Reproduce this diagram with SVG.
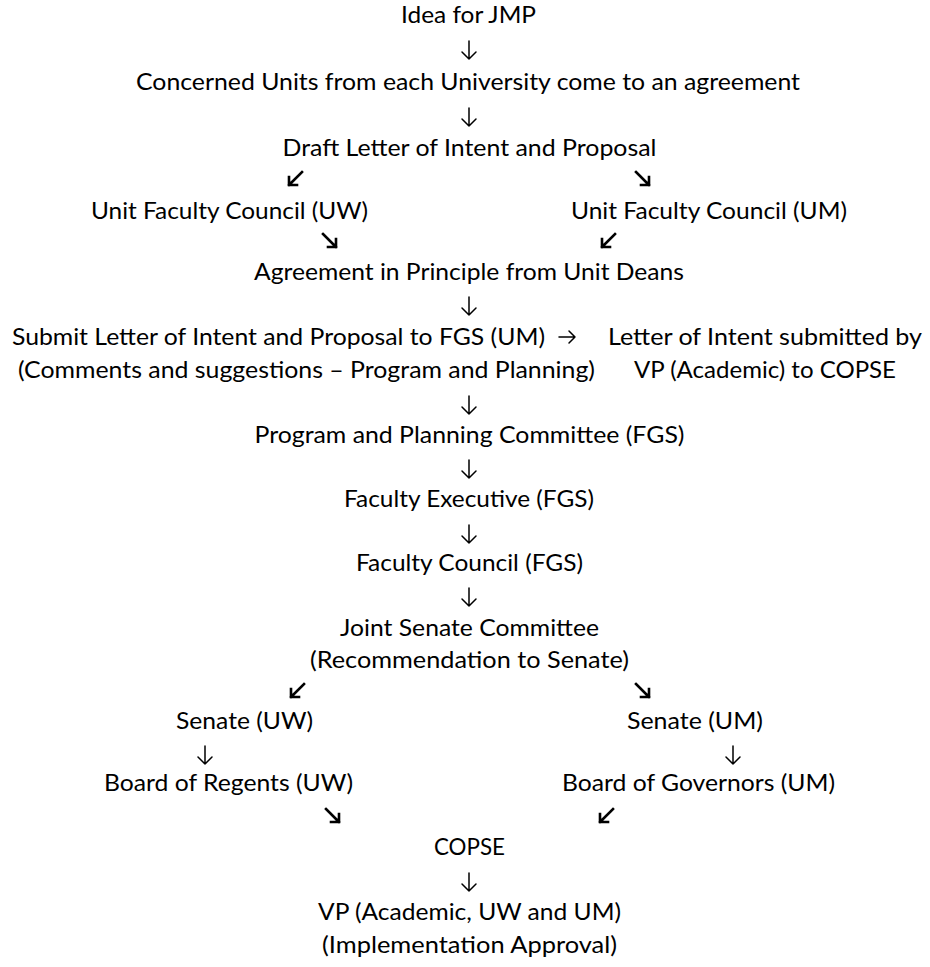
<svg xmlns="http://www.w3.org/2000/svg" width="930" height="967" viewBox="0 0 930 967">
<style>
  text { font-family: Lato, "Liberation Sans", sans-serif; font-size: 24px; fill: #000; }
  .dn { fill: none; stroke: #000; stroke-width: 1.5; stroke-linecap: round; stroke-linejoin: round; }
  .dg { fill: none; stroke: #000; stroke-width: 2.6; stroke-linecap: square; stroke-linejoin: miter; }
</style>
<defs>
  <g id="down"><path class="dn" d="M0,-9 V9 M-7,2 L0,9 L7,2"/></g>
  <g id="sw"><path class="dg" d="M7,-6 L-6,7 M-6,-1 V7 H2"/></g>
  <g id="se"><path class="dg" d="M-7,-6 L6,7 M6,-1 V7 H-2"/></g>
  <g id="right"><path class="dn" d="M-8,0 H8 M2,-6 L8,0 L2,6"/></g>
</defs>
<rect width="930" height="967" fill="#fff"/>

<g id="connectors">
  <use href="#down" x="469" y="50"/>
  <use href="#down" x="469" y="117"/>
  <use href="#sw" x="295" y="178"/>
  <use href="#se" x="643" y="178"/>
  <use href="#se" x="330" y="240"/>
  <use href="#sw" x="608" y="240"/>
  <use href="#down" x="469" y="306"/>
  <use href="#right" x="567" y="337"/>
  <use href="#down" x="469" y="405"/>
  <use href="#down" x="469" y="469"/>
  <use href="#down" x="469" y="534"/>
  <use href="#down" x="469" y="597"/>
  <use href="#sw" x="297" y="690"/>
  <use href="#se" x="643" y="690"/>
  <use href="#down" x="205" y="755"/>
  <use href="#down" x="733" y="755"/>
  <use href="#se" x="333" y="815"/>
  <use href="#sw" x="606" y="815"/>
  <use href="#down" x="469" y="882"/>
</g>

<g id="idea"><text x="401" y="23" textLength="135" lengthAdjust="spacingAndGlyphs">Idea for JMP</text></g>
<g id="concerned"><text x="136" y="90" textLength="664" lengthAdjust="spacingAndGlyphs">Concerned Units from each University come to an agreement</text></g>
<g id="draft"><text x="282.5" y="156" textLength="374" lengthAdjust="spacingAndGlyphs">Draft Letter of Intent and Proposal</text></g>
<g id="ufc-uw"><text x="91" y="219" textLength="277" lengthAdjust="spacingAndGlyphs">Unit Faculty Council (UW)</text></g>
<g id="ufc-um"><text x="571" y="219" textLength="276" lengthAdjust="spacingAndGlyphs">Unit Faculty Council (UM)</text></g>
<g id="agreement"><text x="254" y="280" textLength="430" lengthAdjust="spacingAndGlyphs">Agreement in Principle from Unit Deans</text></g>
<g id="submit">
  <text x="12" y="345" textLength="533" lengthAdjust="spacingAndGlyphs">Submit Letter of Intent and Proposal to FGS (UM)</text>
  <text x="18" y="378" textLength="577" lengthAdjust="spacingAndGlyphs">(Comments and suggestions – Program and Planning)</text>
</g>
<g id="loi">
  <text x="608" y="345" textLength="314" lengthAdjust="spacingAndGlyphs">Letter of Intent submitted by</text>
  <text x="634" y="378" textLength="262" lengthAdjust="spacingAndGlyphs">VP (Academic) to COPSE</text>
</g>
<g id="ppc"><text x="254.5" y="443" textLength="430" lengthAdjust="spacingAndGlyphs">Program and Planning Committee (FGS)</text></g>
<g id="fe"><text x="344" y="507" textLength="250" lengthAdjust="spacingAndGlyphs">Faculty Executive (FGS)</text></g>
<g id="fc"><text x="356" y="571" textLength="227" lengthAdjust="spacingAndGlyphs">Faculty Council (FGS)</text></g>
<g id="jsc">
  <text x="340" y="636" textLength="259" lengthAdjust="spacingAndGlyphs">Joint Senate Committee</text>
  <text x="310" y="668" textLength="319" lengthAdjust="spacingAndGlyphs">(Recommendation to Senate)</text>
</g>
<g id="senate-uw"><text x="176" y="729" textLength="137" lengthAdjust="spacingAndGlyphs">Senate (UW)</text></g>
<g id="senate-um"><text x="627" y="729" textLength="136" lengthAdjust="spacingAndGlyphs">Senate (UM)</text></g>
<g id="bor-uw"><text x="104" y="791" textLength="249" lengthAdjust="spacingAndGlyphs">Board of Regents (UW)</text></g>
<g id="bog-um"><text x="562" y="791" textLength="273" lengthAdjust="spacingAndGlyphs">Board of Governors (UM)</text></g>
<g id="copse"><text x="434" y="855" textLength="71" lengthAdjust="spacingAndGlyphs">COPSE</text></g>
<g id="vp">
  <text x="318" y="920" textLength="303" lengthAdjust="spacingAndGlyphs">VP (Academic, UW and UM)</text>
  <text x="322" y="953" textLength="295" lengthAdjust="spacingAndGlyphs">(Implementation Approval)</text>
</g>
</svg>
